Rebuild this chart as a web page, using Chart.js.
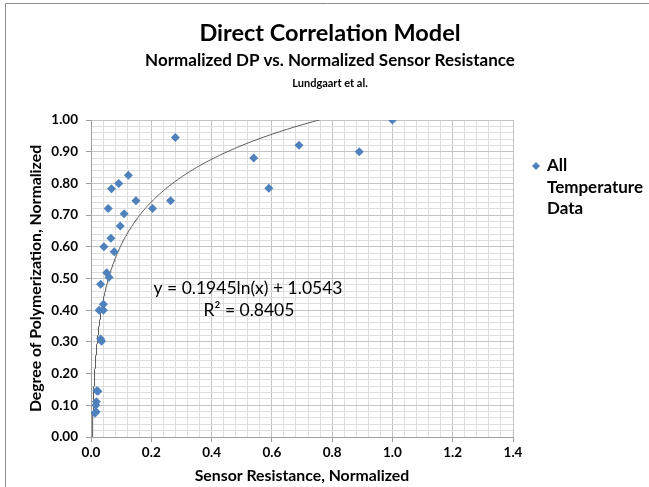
<!DOCTYPE html>
<html>
<head>
<meta charset="utf-8">
<script src="https://cdn.jsdelivr.net/npm/chart.js@4"></script>
<style>
  html, body { margin: 0; padding: 0; background: #fff; }
  #wrap { width: 649px; height: 487px; position: relative; }
</style>
</head>
<body>
<div id="wrap"><canvas id="chart" width="649" height="487"></canvas></div>
<script>
// ---- data ----
const resistance = [1.0, 0.89, 0.69, 0.59, 0.54, 0.28, 0.124, 0.092, 0.068, 0.149, 0.264,
  0.057, 0.204, 0.110, 0.097, 0.066, 0.043, 0.077, 0.052, 0.060, 0.032, 0.041, 0.027,
  0.041, 0.032, 0.035, 0.019, 0.023, 0.018, 0.016, 0.017, 0.013];
const dpNormalized = [1.0, 0.90, 0.92, 0.785, 0.88, 0.945, 0.826, 0.80, 0.783, 0.745, 0.745,
  0.721, 0.721, 0.704, 0.666, 0.627, 0.60, 0.584, 0.518, 0.504, 0.482, 0.419, 0.40,
  0.40, 0.309, 0.302, 0.146, 0.144, 0.111, 0.10, 0.08, 0.075];

// axis ticks
const xRange = [0, 1.4];
const xMajor = 0.2, xMinor = 0.04;
const yRange = [0, 1.0];
const yMajor = 0.1, yMinor = 0.02;

// trendline reported in the chart: y = a ln(x) + b
const trendA = 0.1945;
const trendB = 1.0543;
const trendR2 = 0.8405;
const trendFrom = 0.0044, trendTo = 1.0;

const titleLines = ['Direct Correlation Model', 'Normalized DP vs. Normalized Sensor Resistance', 'Lundgaart et al.'];
const legendLines = ['All', 'Temperature', 'Data'];

const FONT = 'Lato, "Open Sans", sans-serif';
const markerColor = '#4F81BD';

// build trendline points from the equation
const trendPoints = [];
for (let i = 0; i <= 300; i++) {
  const x = trendFrom * Math.pow(trendTo / trendFrom, i / 300);
  trendPoints.push({ x, y: trendA * Math.log(x) + trendB });
}

const isMultiple = (v, step) => Math.abs(v / step - Math.round(v / step)) < 1e-6;

// titles, border, equation, legend
const decorations = {
  id: 'decorations',
  beforeDraw(chart) {
    const ctx = chart.ctx;
    ctx.save();
    ctx.fillStyle = '#fff';
    ctx.fillRect(0, 0, chart.width, chart.height);
    ctx.strokeStyle = '#8c8c8c';
    ctx.lineWidth = 1;
    ctx.beginPath();
    ctx.moveTo(5.5, chart.height + 2);
    ctx.lineTo(5.5, 3.5);
    ctx.lineTo(chart.width + 2, 3.5);
    ctx.stroke();
    ctx.restore();
  },
  afterDraw(chart) {
    const ctx = chart.ctx;
    const area = chart.chartArea;
    ctx.save();
    ctx.fillStyle = '#000';
    ctx.textAlign = 'center';
    ctx.textBaseline = 'middle';
    ctx.font = 'bold 23.5px ' + FONT;
    ctx.fillText(titleLines[0], 330, 33);
    ctx.font = 'bold 17px ' + FONT;
    ctx.fillText(titleLines[1], 330, 61);
    ctx.font = 'bold 11px ' + FONT;
    ctx.fillText(titleLines[2], 330, 83);

    // trendline label
    ctx.font = '17.5px ' + FONT;
    ctx.fillText('y = ' + trendA + 'ln(x) + ' + trendB, 248, 288);
    ctx.fillText('R\u00B2 = ' + trendR2, 249, 310);

    // legend
    const lx = area.right + 23, ly = 166;
    ctx.fillStyle = markerColor;
    ctx.beginPath();
    ctx.moveTo(lx, ly - 4);
    ctx.lineTo(lx + 4, ly);
    ctx.lineTo(lx, ly + 4);
    ctx.lineTo(lx - 4, ly);
    ctx.closePath();
    ctx.fill();
    ctx.fillStyle = '#000';
    ctx.textAlign = 'left';
    ctx.font = 'bold 17px ' + FONT;
    legendLines.forEach((t, i) => ctx.fillText(t, lx + 11, ly + i * 21.5));
    ctx.restore();
  }
};

new Chart(document.getElementById('chart').getContext('2d'), {
  type: 'scatter',
  data: {
    datasets: [{
      label: 'All Temperature Data',
      data: resistance.map((x, i) => ({ x, y: dpNormalized[i] })),
      pointStyle: 'rectRot',
      pointRadius: 4.5,
      pointHoverRadius: 4.5,
      backgroundColor: markerColor,
      borderColor: markerColor,
      borderWidth: 0,
      order: 1
    }, {
      label: 'Trend',
      type: 'line',
      data: trendPoints,
      borderColor: '#595959',
      borderWidth: 1,
      pointRadius: 0,
      fill: false,
      tension: 0,
      order: 2
    }]
  },
  options: {
    responsive: false,
    animation: false,
    events: [],
    layout: { padding: { top: 120, right: 136, left: 0, bottom: 0 } },
    plugins: {
      legend: { display: false },
      tooltip: { enabled: false },
      title: { display: false }
    },
    scales: {
      x: {
        type: 'linear',
        min: xRange[0],
        max: xRange[1],
        afterFit: s => { s.height = 50; },
        ticks: {
          stepSize: xMinor,
          autoSkip: false,
          maxRotation: 0,
          padding: 3,
          color: '#000',
          font: { family: FONT, size: 13.5, weight: 'bold' },
          callback: v => isMultiple(v, xMajor) ? v.toFixed(1) : ''
        },
        grid: {
          color: c => isMultiple(c.tick.value, xMajor) ? '#c4c4c4' : '#dedede',
          tickColor: c => isMultiple(c.tick.value, xMajor) ? '#a0a0a0' : 'rgba(0,0,0,0)',
          tickLength: 5
        },
        border: { color: '#a0a0a0' },
        title: {
          display: true,
          text: 'Sensor Resistance, Normalized',
          color: '#000',
          font: { family: FONT, size: 15.8, weight: 'bold' },
          padding: { top: 0, bottom: 2 }
        }
      },
      y: {
        type: 'linear',
        min: yRange[0],
        max: yRange[1],
        afterFit: s => { s.width = 91; },
        ticks: {
          stepSize: yMinor,
          autoSkip: false,
          padding: 8,
          color: '#000',
          font: { family: FONT, size: 13.5, weight: 'bold' },
          callback: v => isMultiple(v, yMajor) ? v.toFixed(2) : ''
        },
        grid: {
          color: c => isMultiple(c.tick.value, yMajor) ? '#c4c4c4' : '#dedede',
          tickColor: c => isMultiple(c.tick.value, yMajor) ? '#a0a0a0' : 'rgba(0,0,0,0)',
          tickLength: 5
        },
        border: { color: '#a0a0a0' },
        title: {
          display: true,
          text: 'Degree of Polymerization, Normalized',
          color: '#000',
          font: { family: FONT, size: 15.8, weight: 'bold' },
          padding: { top: 26, bottom: 0 }
        }
      }
    }
  },
  plugins: [decorations]
});
</script>
</body>
</html>
